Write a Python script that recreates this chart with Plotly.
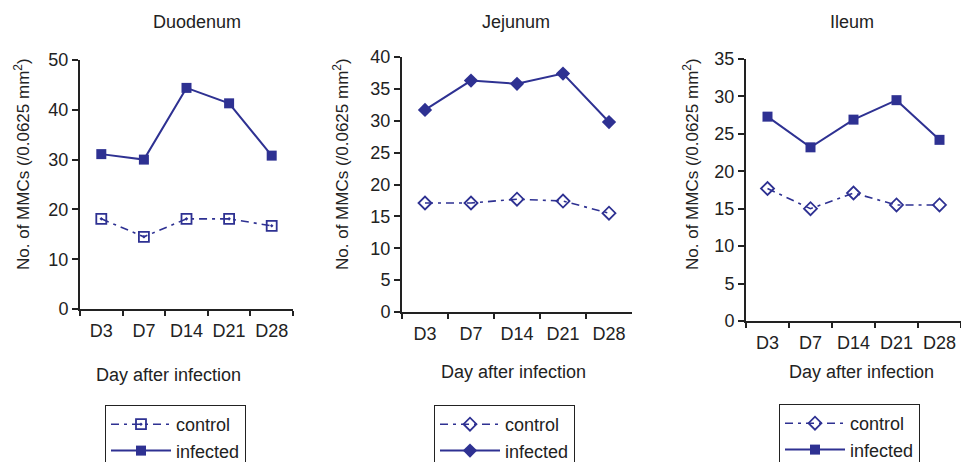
import plotly.graph_objects as go

W, H = 961, 462

days = ["D3", "D7", "D14", "D21", "D28"]
panel_titles = ["Duodenum", "Jejunum", "Ileum"]
duo_control = [18.1, 14.5, 18.1, 18.1, 16.7]
duo_infected = [31.1, 30.0, 44.4, 41.3, 30.8]
jej_control = [17.1, 17.1, 17.7, 17.4, 15.5]
jej_infected = [31.7, 36.3, 35.8, 37.4, 29.8]
ile_control = [17.7, 15.0, 17.1, 15.5, 15.5]
ile_infected = [27.3, 23.2, 26.9, 29.5, 24.2]
y_max = [50, 40, 35]
y_dtick = [10, 5, 5]

controls = [duo_control, jej_control, ile_control]
infecteds = [duo_infected, jej_infected, ile_infected]

# layout geometry in pixels
x_dom_px = [(80, 293), (402, 632), (746, 961)]
y_dom_px = [(60, 309), (57, 312), (59, 321)]
ytitle_x = [22, 341, 691]
ytitle_y = 164
title_x = [197, 516, 852]
xtitle_pos = [(168, 375), (513, 372), (861, 372)]
legend_pos = [(105, 405), (434, 405), (779, 404)]
ctrl_sym = ["square-open-dot", "diamond-open", "diamond-open"]
inf_sym = ["square", "diamond", "square"]

COL = "#2E3192"
TXT = "#222222"
FONT = "Liberation Sans, Arial, sans-serif"

fig = go.Figure()
layout = dict(
    width=W, height=H, margin=dict(l=0, r=0, t=0, b=0, autoexpand=False),
    paper_bgcolor="white", plot_bgcolor="white",
    font=dict(family=FONT, size=18, color=TXT),
    annotations=[],
)

for i in range(3):
    sfx = "" if i == 0 else str(i + 1)
    xa, ya = "x" + sfx, "y" + sfx
    lg = "legend" + sfx
    fig.add_trace(go.Scatter(
        x=days, y=controls[i], xaxis=xa, yaxis=ya, name="control",
        mode="lines+markers", legend=lg,
        line=dict(color=COL, width=1.6, dash="8px,5px,3px,5px"),
        marker=dict(symbol=ctrl_sym[i], size=10, color=COL,
                    line=dict(color=COL, width=1.8)),
    ))
    fig.add_trace(go.Scatter(
        x=days, y=infecteds[i], xaxis=xa, yaxis=ya, name="infected",
        mode="lines+markers", legend=lg,
        line=dict(color=COL, width=2),
        marker=dict(symbol=inf_sym[i], size=11 if inf_sym[i] == "diamond" else 10,
                    color=COL),
    ))
    x0, x1 = x_dom_px[i]
    yt, yb = y_dom_px[i]
    layout["xaxis" + sfx] = dict(
        domain=[x0 / W, x1 / W], anchor=ya, type="category",
        range=[-0.5, 4.5], tickson="boundaries", ticks="outside", ticklen=5,
        tickwidth=1.5, tickcolor=TXT, showline=True, linecolor=TXT, linewidth=2,
        showgrid=False, zeroline=False, tickfont=dict(size=18, color=TXT),
        ticklabelstandoff=4, automargin=False,
    )
    layout["yaxis" + sfx] = dict(
        domain=[1 - yb / H, 1 - yt / H], anchor=xa, range=[0, y_max[i]],
        dtick=y_dtick[i], ticks="outside", ticklen=6, tickwidth=1.5,
        tickcolor=TXT, showline=True, linecolor=TXT, linewidth=2,
        showgrid=False, zeroline=False, tickfont=dict(size=18, color=TXT),
        automargin=False,
    )
    layout[lg] = dict(
        x=legend_pos[i][0] / W, y=1 - legend_pos[i][1] / H,
        xanchor="left", yanchor="top", bordercolor=TXT, borderwidth=1,
        bgcolor="white", font=dict(size=18, color=TXT), itemwidth=60,
        tracegroupgap=0, entrywidth=125, entrywidthmode="pixels",
    )
    layout["annotations"].append(dict(
        text=panel_titles[i], xref="paper", yref="paper",
        x=title_x[i] / W, y=1 - 22 / H, showarrow=False,
        font=dict(size=18, color=TXT), xanchor="center", yanchor="middle"))
    layout["annotations"].append(dict(
        text="No. of MMCs (/0.0625 mm<sup>2</sup>)", xref="paper", yref="paper",
        x=ytitle_x[i] / W, y=1 - ytitle_y / H, textangle=-90,
        showarrow=False, font=dict(size=17, color=TXT),
        xanchor="center", yanchor="middle"))
    layout["annotations"].append(dict(
        text="Day after infection", xref="paper", yref="paper",
        x=xtitle_pos[i][0] / W, y=1 - xtitle_pos[i][1] / H, showarrow=False,
        font=dict(size=18, color=TXT), xanchor="center", yanchor="middle"))

fig.update_layout(**layout)
fig.write_html(
    "out.html",
    config={"displayModeBar": False},
    post_script="document.body.style.margin='0';document.body.style.overflow='hidden';",
)
